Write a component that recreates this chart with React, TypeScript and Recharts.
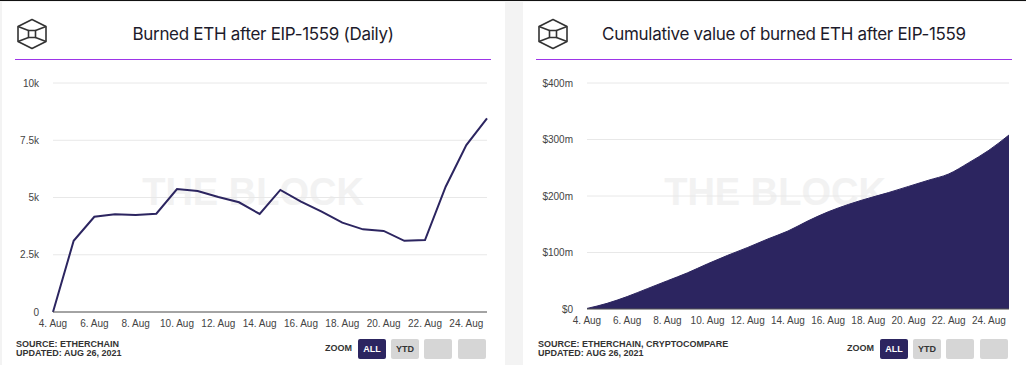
import React from 'react';
import {
  LineChart,
  Line,
  AreaChart,
  Area,
  XAxis,
  YAxis,
  CartesianGrid,
} from 'recharts';

// days shown on both charts
const days = [
  '4. Aug', '5. Aug', '6. Aug', '7. Aug', '8. Aug', '9. Aug', '10. Aug', '11. Aug',
  '12. Aug', '13. Aug', '14. Aug', '15. Aug', '16. Aug', '17. Aug', '18. Aug', '19. Aug',
  '20. Aug', '21. Aug', '22. Aug', '23. Aug', '24. Aug', '25. Aug',
];

// ETH burned per day
const burnedEth = [
  0, 3110, 4160, 4270, 4240, 4290, 5370, 5280, 5020, 4790, 4280,
  5330, 4820, 4380, 3900, 3610, 3540, 3110, 3140, 5470, 7290, 8460,
];

// cumulative burned value, millions of USD
const cumulativeUsdM = [
  1, 10, 22, 36, 50, 64, 80, 95, 109, 124, 138,
  156, 172, 185, 196, 206, 217, 228, 239, 259, 281, 308,
];

const dailyTicks = [0, 2500, 5000, 7500, 10000];
const dailyTickLabels = ['0', '2.5k', '5k', '7.5k', '10k'];
const cumTicks = [0, 100, 200, 300, 400];
const cumTickLabels = ['$0', '$100m', '$200m', '$300m', '$400m'];

const dailyData = days.map((day, i) => ({ day, burned: burnedEth[i] }));
const cumData = days.map((day, i) => ({ day, value: cumulativeUsdM[i] }));

const NAVY = '#2c2560';
const tickStyle = { fontSize: 10, fill: '#444', fontFamily: '"Liberation Sans", Arial, sans-serif' };
const smallBold: React.CSSProperties = {
  position: 'absolute',
  fontSize: 9,
  fontWeight: 'bold',
  color: '#333',
  fontFamily: '"Liberation Sans", Arial, sans-serif',
  lineHeight: '10px',
  whiteSpace: 'nowrap',
};

const Icon = ({ left }: { left: number }) => (
  <svg style={{ position: 'absolute', left, top: 18 }} width={32} height={32} viewBox="0 0 32 32">
    <g fill="none" stroke="#333" strokeWidth={1.6} strokeLinejoin="round">
      <polygon points="16,1.5 30,8.5 30,23.5 16,30.5 2,23.5 2,8.5" />
      <rect x={12.5} y={12.5} width={7} height={7} />
      <line x1={2} y1={8.5} x2={12.5} y2={12.5} />
      <line x1={30} y1={8.5} x2={19.5} y2={12.5} />
      <line x1={2} y1={23.5} x2={12.5} y2={19.5} />
      <line x1={30} y1={23.5} x2={19.5} y2={19.5} />
    </g>
  </svg>
);

const Header = ({ offset, title, center }: { offset: number; title: string; center: number }) => (
  <>
    <Icon left={offset + 14} />
    <div
      style={{
        position: 'absolute',
        left: center - 250,
        width: 500,
        top: 23,
        textAlign: 'center',
        fontSize: 17,
        lineHeight: '22px',
        letterSpacing: -0.3,
        color: '#1d1b2b',
        fontFamily: 'Inter, "Noto Sans", sans-serif',
      }}
    >
      {title}
    </div>
    <div style={{ position: 'absolute', left: offset + 13, top: 59, width: 476, height: 1, background: '#9d35e8' }} />
  </>
);

const Watermark = ({ center }: { center: number }) => (
  <div
    style={{
      position: 'absolute',
      left: center - 200,
      width: 400,
      top: 173,
      textAlign: 'center',
      fontSize: 38,
      lineHeight: '38px',
      fontWeight: 'bold',
      color: '#f2f2f2',
      fontFamily: '"Liberation Sans", Arial, sans-serif',
    }}
  >
    THE BLOCK
  </div>
);

const ZoomBar = ({ left }: { left: number }) => {
  const btn = (x: number, label: string, active: boolean) => (
    <div
      key={x}
      style={{
        position: 'absolute',
        left: left + x,
        top: 339,
        width: 28,
        height: 20,
        borderRadius: 2,
        background: active ? NAVY : '#d6d6d6',
        color: active ? '#fff' : '#333',
        fontSize: 9,
        fontWeight: 'bold',
        fontFamily: '"Liberation Sans", Arial, sans-serif',
        lineHeight: '20px',
        textAlign: 'center',
      }}
    >
      {label}
    </div>
  );
  return (
    <>
      <div style={{ ...smallBold, left: left - 33, top: 343 }}>ZOOM</div>
      {btn(0, 'ALL', true)}
      {btn(33, 'YTD', false)}
      {btn(66, '', false)}
      {btn(100, '', false)}
    </>
  );
};

export default function App() {
  return (
    <div
      style={{
        position: 'absolute',
        left: 0,
        top: 0,
        width: 1026,
        height: 365,
        background: '#f3f3f3',
        overflow: 'hidden',
      }}
    >
      <div style={{ position: 'absolute', left: 0, top: 0, width: 1026, height: 1, background: '#111' }} />
      <div style={{ position: 'absolute', left: 2, top: 2, width: 503, height: 363, background: '#fff' }} />
      <div style={{ position: 'absolute', left: 523, top: 2, width: 503, height: 363, background: '#fff' }} />

      {/* left panel: daily burn */}
      <Header offset={2} title="Burned ETH after EIP-1559 (Daily)" center={263} />
      <Watermark center={253} />
      <div style={{ position: 'absolute', left: 0, top: 70 }}>
        <LineChart width={500} height={272} data={dailyData} margin={{ top: 13, right: 13, left: 0, bottom: 0 }}>
          <CartesianGrid vertical={false} stroke="#e8e8e8" />
          <XAxis
            dataKey="day"
            interval={1}
            tickLine={false}
            axisLine={{ stroke: '#555' }}
            tick={tickStyle}
            height={30}
          />
          <YAxis
            width={53}
            domain={[0, 10000]}
            ticks={dailyTicks}
            tickFormatter={(v: number) => dailyTickLabels[dailyTicks.indexOf(v)]}
            axisLine={false}
            tickLine={false}
            tickMargin={8}
            tick={tickStyle}
          />
          <Line
            type="linear"
            dataKey="burned"
            stroke={NAVY}
            strokeWidth={2}
            dot={false}
            isAnimationActive={false}
          />
        </LineChart>
      </div>
      <div style={{ ...smallBold, left: 16, top: 339 }}>SOURCE: ETHERCHAIN</div>
      <div style={{ ...smallBold, left: 16, top: 348 }}>UPDATED: AUG 26, 2021</div>
      <ZoomBar left={358} />

      {/* right panel: cumulative value */}
      <Header offset={523} title="Cumulative value of burned ETH after EIP-1559" center={784} />
      <Watermark center={775} />
      <div style={{ position: 'absolute', left: 523, top: 70 }}>
        <AreaChart width={499} height={269} data={cumData} margin={{ top: 13, right: 13, left: 0, bottom: 0 }}>
          <CartesianGrid vertical={false} stroke="#e8e8e8" />
          <XAxis
            dataKey="day"
            interval={1}
            tickLine={false}
            axisLine={{ stroke: '#555' }}
            tick={tickStyle}
            height={30}
          />
          <YAxis
            width={64}
            domain={[0, 400]}
            ticks={cumTicks}
            tickFormatter={(v: number) => cumTickLabels[cumTicks.indexOf(v)]}
            axisLine={false}
            tickLine={false}
            tickMargin={8}
            tick={tickStyle}
          />
          <Area
            type="monotone"
            dataKey="value"
            stroke={NAVY}
            strokeWidth={1}
            fill={NAVY}
            fillOpacity={1}
            isAnimationActive={false}
          />
        </AreaChart>
      </div>
      <div style={{ ...smallBold, left: 538, top: 339 }}>SOURCE: ETHERCHAIN, CRYPTOCOMPARE</div>
      <div style={{ ...smallBold, left: 538, top: 348 }}>UPDATED: AUG 26, 2021</div>
      <ZoomBar left={880} />
    </div>
  );
}
